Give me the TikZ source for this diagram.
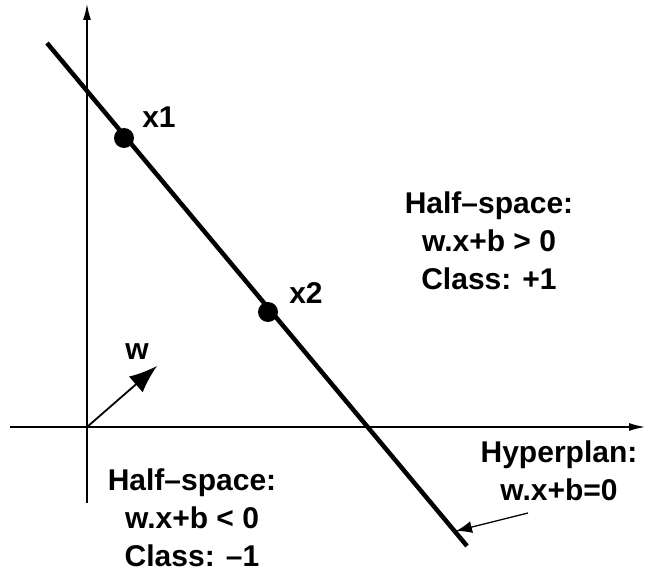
\documentclass[tikz,border=0pt]{standalone}
\usepackage{fontspec}
\setmainfont{Liberation Sans}
\usepackage{tikz}
\usetikzlibrary{arrows.meta}

\begin{document}
\begin{tikzpicture}[
  x=1pt, y=-1pt,
  every node/.style = {font=\fontsize{30}{38}\selectfont\bfseries},
  %% point and label styles
  dot/.style    = {circle, fill=black, inner sep=0pt, minimum size=20pt},
  lbl/.style    = {inner sep=0pt, anchor=center},
  region/.style = {align=center, inner sep=0pt},
  %% line styles
  axis/.style   = {-{Latex[length=16pt,width=8pt]}, line width=1.3pt},
  hplane/.style = {line width=4.5pt},
  wvec/.style   = {-{Latex[length=28pt,width=21pt]}, line width=1.8pt},
  ptr/.style    = {-{Latex[length=16pt,width=12pt]}, line width=1.3pt}
]
\useasboundingbox (0,0) rectangle (645,575);

%% ---- Axes ----
\coordinate (O)  at (87,427);
\coordinate (XL) at (10,427);
\coordinate (XR) at (645,427);
\coordinate (YB) at (87,503);
\coordinate (YT) at (87,4);
\draw[axis] (XL) -- (XR);
\draw[axis] (YB) -- (YT);

%% ---- Hyperplane with the two points ----
\coordinate (HT) at (47,43);
\coordinate (HB) at (467,546);
\draw[hplane] (HT) -- (HB);
\node[dot] (X1) at (124,138) {};
\node[dot] (X2) at (268,312) {};
\node[lbl] (LX1) at (159,117) {x1};
\node[lbl] (LX2) at (306,293) {x2};

%% ---- Normal vector ----
\coordinate (WT) at (157,366);
\draw[wvec] (O) -- (WT);
\node[lbl] (LW) at (137,352) {w};

%% ---- Half-space labels ----
\node[region] (POS) at (489,241)
  {Half--space:\\ w.x+b > 0\\ Class: +1};
\node[region] (NEG) at (192,518)
  {Half--space:\\ w.x+b < 0\\ Class: --1};

%% ---- Hyperplane label and pointer ----
\node[region] (HYP) at (559,471) {Hyperplan:\\ w.x+b=0};
\coordinate (PT) at (528,513);
\coordinate (PH) at (456,531);
\draw[ptr] (PT) -- (PH);

\end{tikzpicture}
\end{document}
